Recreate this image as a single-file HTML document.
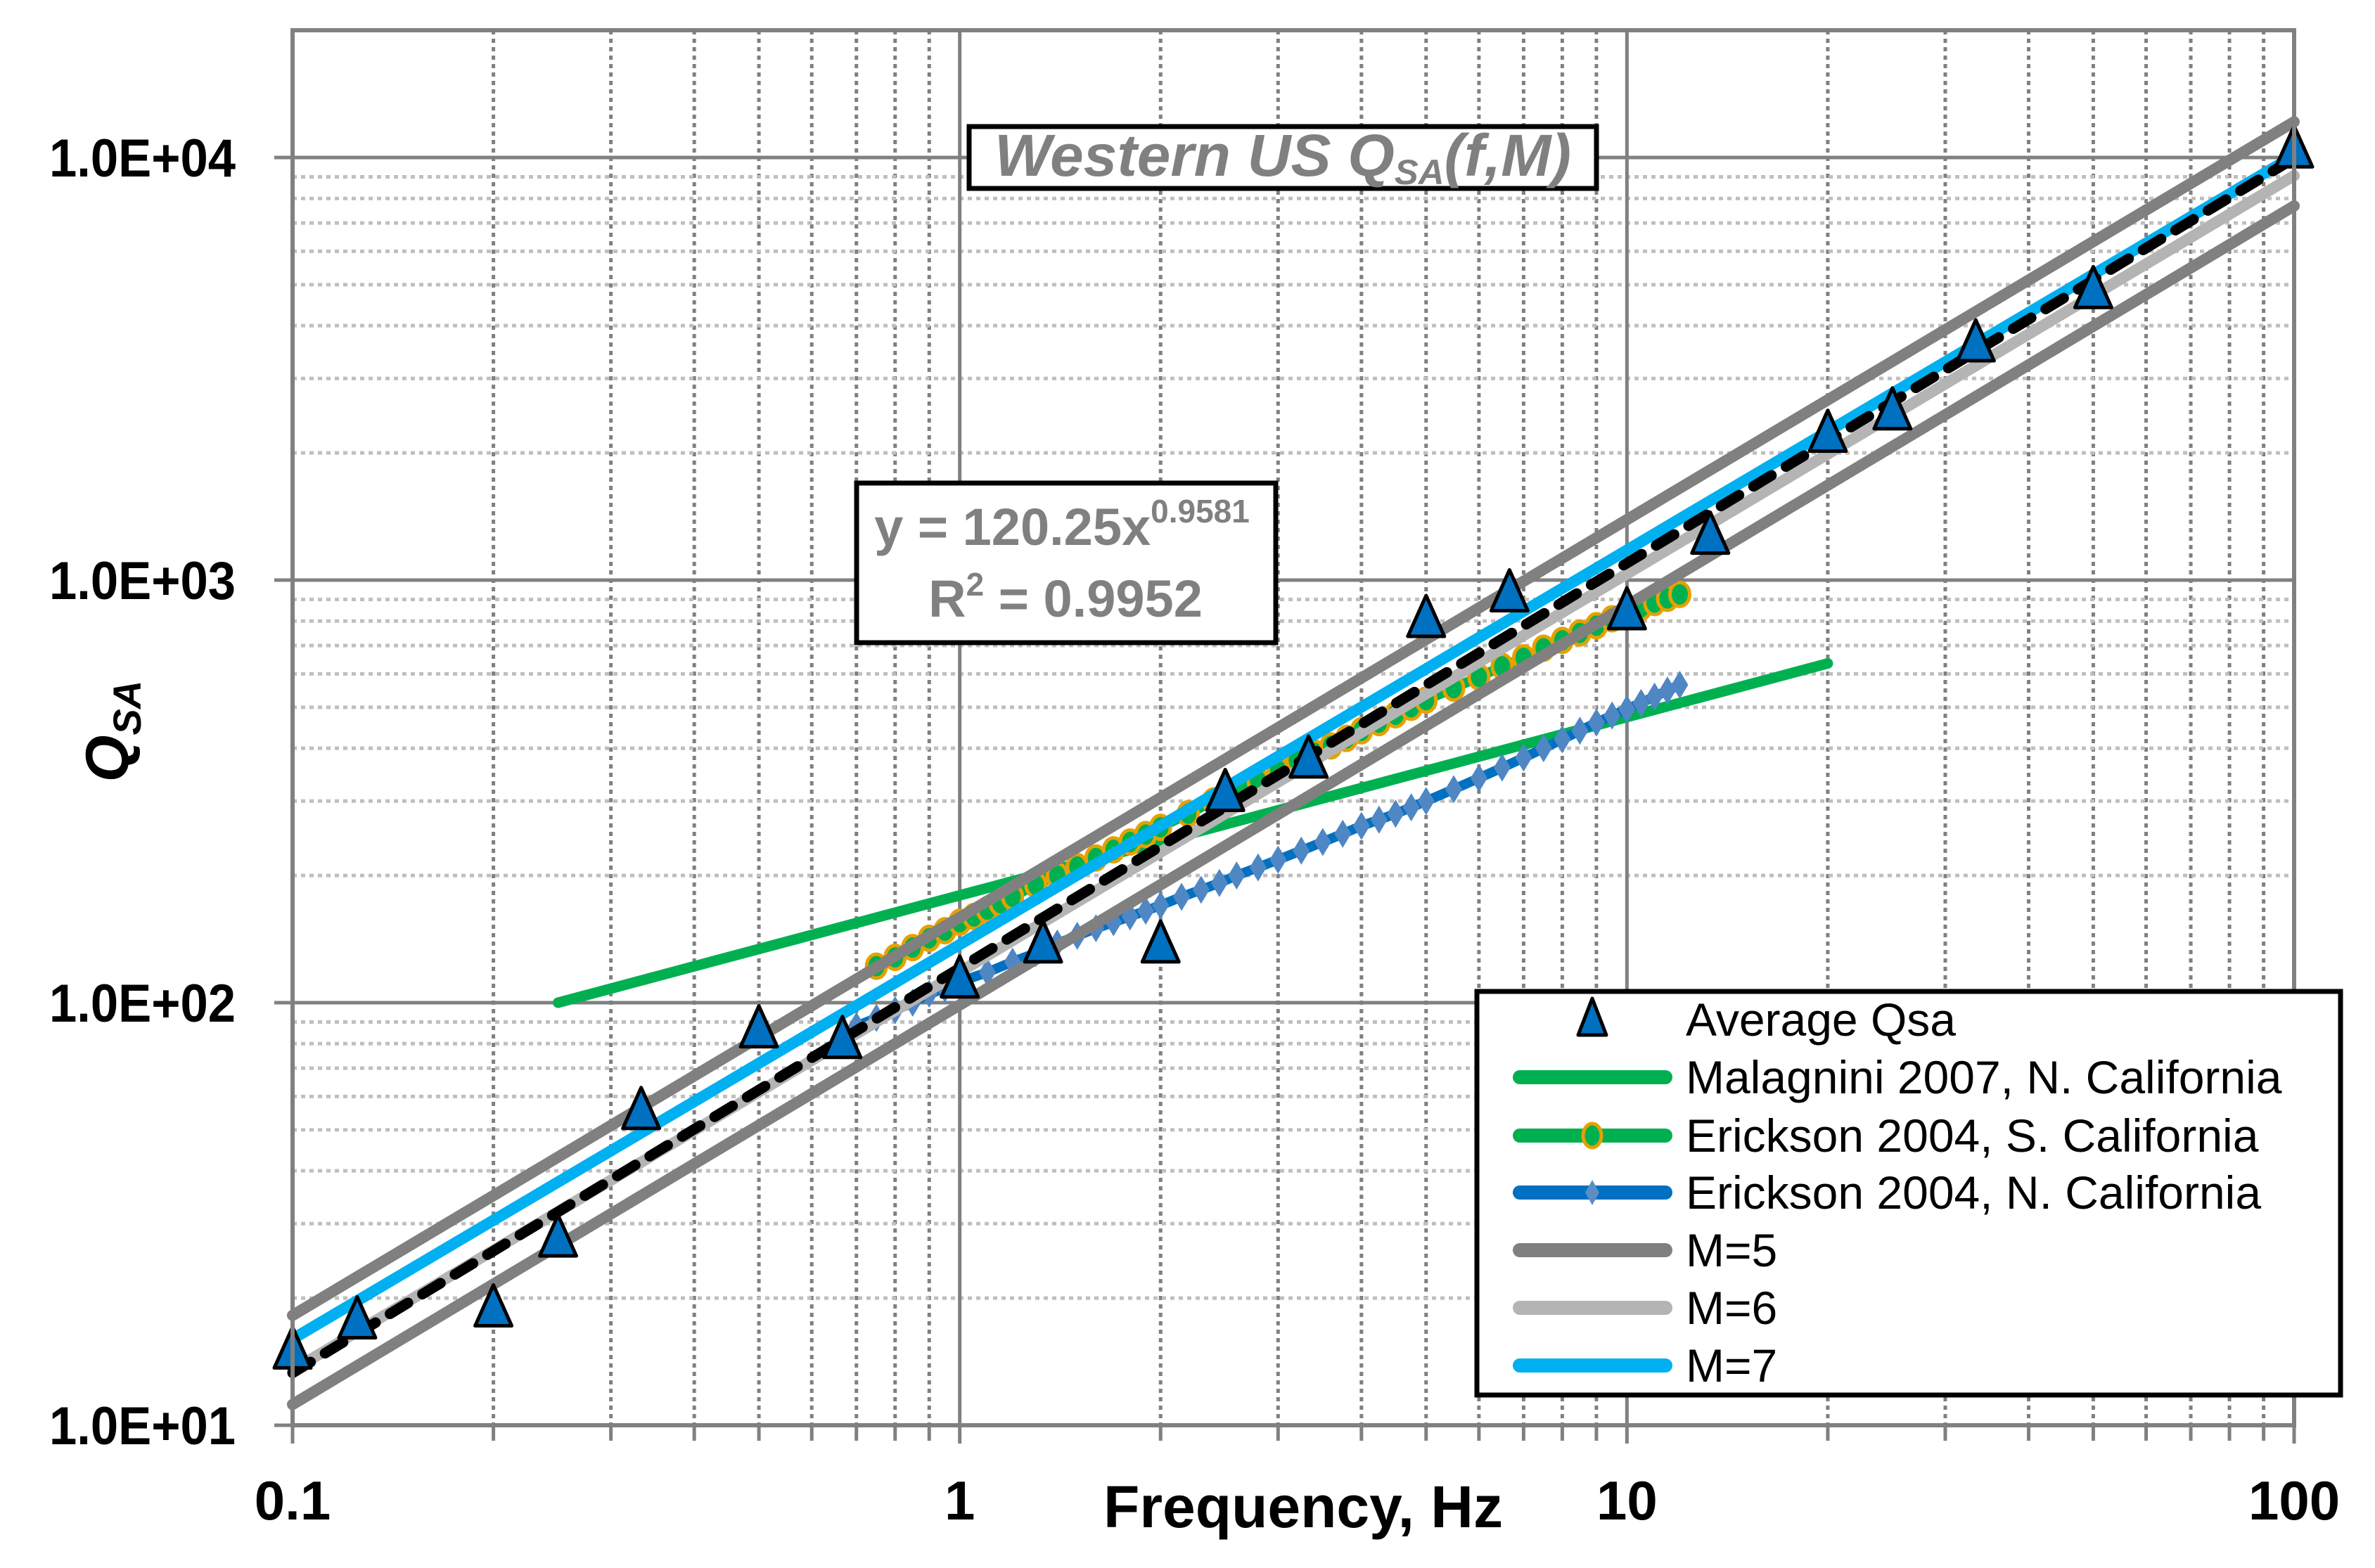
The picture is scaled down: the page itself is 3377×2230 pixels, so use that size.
<!DOCTYPE html>
<html><head><meta charset="utf-8"><style>
html,body{margin:0;padding:0;background:#fff;}
svg{display:block;}
text{font-family:"Liberation Sans",sans-serif;}
</style></head><body>
<svg id="chart" xmlns="http://www.w3.org/2000/svg" width="3377" height="2230" viewBox="0 0 3377 2230">
<rect x="0" y="0" width="3377" height="2230" fill="#fff"/>
<g id="grid"></g>
<g id="series"></g>
<rect x="416" y="43" width="2846" height="1984" fill="none" stroke="#808080" stroke-width="6"/>
<g id="ticks"></g>

<g>
<rect x="1378" y="180" width="892" height="88" fill="#fff" stroke="#000" stroke-width="7"/>
<text x="1824" y="250" text-anchor="middle" font-size="84" font-weight="bold" font-style="italic" fill="#808080" textLength="820" lengthAdjust="spacingAndGlyphs">Western US Q<tspan font-size="50" dy="12">SA</tspan><tspan dy="-12">(f,M)</tspan></text>
</g>
<g>
<rect x="1218" y="687" width="596" height="227" fill="#fff" stroke="#000" stroke-width="7"/>
<text x="1510" y="775" text-anchor="middle" font-size="74" font-weight="bold" fill="#808080">y = 120.25x<tspan font-size="46" dy="-32">0.9581</tspan></text>
<text x="1515" y="877" text-anchor="middle" font-size="74" font-weight="bold" fill="#808080">R<tspan font-size="46" dy="-30">2</tspan><tspan dy="30"> = 0.9952</tspan></text>
</g>

<text transform="translate(182,1040) rotate(-90)" text-anchor="middle" font-size="86" font-weight="bold" font-style="italic" fill="#000">Q<tspan font-size="56" dy="18">SA</tspan></text>
<text x="1853" y="2172" text-anchor="middle" font-size="84" font-weight="bold" fill="#000">Frequency, Hz</text>

<g id="legend">
<rect x="2100" y="1410" width="1228" height="574" fill="#fff" stroke="#000" stroke-width="7"/>
</g>
</svg>
<script>
const NS="http://www.w3.org/2000/svg";
// axis domain
const xTicks=[0.1,1,10,100];
const xTickLabels=["0.1","1","10","100"];
const yTicks=[10,100,1000,10000];
const yTickLabels=["1.0E+01","1.0E+02","1.0E+03","1.0E+04"];
// Average Qsa
const avgF=[0.1,0.125,0.2,0.25,0.333,0.5,0.667,1.0,1.333,2.0,2.5,3.333,5.0,6.667,10,13.33,20,25,33.33,50,100];
const avgQ=[15.1,17.8,19.0,27.8,55.7,86.9,82,114,138,138,315,378,813,935,848,1280,2230,2520,3650,4880,10500];
// Malagnini 2007
const malF=[0.25,20];
const malQ=[100,635];
// Erickson 2004 S. California
const esF=[0.75,0.8,0.85,0.9,0.95,1.0,1.05,1.1,1.15,1.2,1.3,1.4,1.5,1.6,1.7,1.8,1.9,2.0,2.2,2.4,2.5,2.8,3.0,3.2,3.4,3.6,3.8,4.0,4.25,4.5,4.75,5.0,5.5,6.0,6.5,7.0,7.5,8.0,8.5,9.0,9.5,10,10.5,11,11.5,12];
const esQ=[122,128,135,142,148,155,160,166,172,178,190,200,210,220,230,240,250,260,280,300,310,335,355,375,390,405,422,440,460,480,500,520,555,590,625,655,690,720,750,780,810,840,862,885,905,925];
// Erickson 2004 N. California
const enF=[0.7,0.75,0.8,0.85,0.9,0.95,1.0,1.1,1.2,1.3,1.4,1.5,1.6,1.7,1.8,1.9,2.0,2.15,2.3,2.45,2.6,2.8,3.0,3.25,3.5,3.75,4.0,4.25,4.5,4.75,5,5.5,6,6.5,7,7.5,8,8.5,9,9.5,10,10.5,11,11.5,12];
const enQ=[88,92,96,100,105,108,112,118,125,131,138,144,150,155,160,165,170,178,185,192,200,209,218,229,240,251,262,271,280,290,300,320,340,360,380,400,420,440,460,478,495,512,530,548,565];
// Magnitude curves
const m5F=[0.1,100];
const m5UpperQ=[18.2,12150];
const m5LowerQ=[11.2,7680];
const m6F=[0.1,100];
const m6Q=[13.5,9060];
const m7F=[0.1,100];
const m7Q=[16.0,10100];
// power-law trendline
const trendF=[0.1,100];
const trendQ=[13.3,9960];

const X0=416,XD=948.67,Y0=2027,YD=601;
function sx(f){return X0+(Math.log10(f)+1)*XD;}
function sy(q){return Y0-(Math.log10(q)-1)*YD;}
function mk(tag,attrs,parent){const e=document.createElementNS(NS,tag);for(const k in attrs)e.setAttribute(k,attrs[k]);parent.appendChild(e);return e;}

const grid=document.getElementById('grid');
const ticks=document.getElementById('ticks');
const ser=document.getElementById('series');
const yTop=43,xRight=3262;
for(let d=0;d<3;d++){for(let m=2;m<=9;m++){const f=xTicks[d]*m;const x=sx(f);
 const l=mk('line',{x1:x,y1:yTop,x2:x,y2:Y0,stroke:'#808080','stroke-width':5,'stroke-dasharray':'6 6'},grid);
 
 
 const t=mk('line',{x1:x,y1:Y0,x2:x,y2:Y0+22,stroke:'#808080','stroke-width':5},ticks);
 
 
}}
for(let d=0;d<4;d++){for(let m=2;m<=9;m++){const q=yTicks[d]*m;const y=sy(q);if(y<yTop)continue;
 const l=mk('line',{x1:X0,y1:y,x2:xRight,y2:y,stroke:'#bfbfbf','stroke-width':5,'stroke-dasharray':'6 6'},grid);
 
 
}}
xTicks.forEach((f,i)=>{const x=sx(f);
 const l=mk('line',{x1:x,y1:yTop,x2:x,y2:Y0+26,stroke:'#808080','stroke-width':5},grid);
 
 
 const t=mk('text',{x:x,y:2161,'text-anchor':'middle','font-size':78,'font-weight':'bold',fill:'#000'},ticks);
 t.textContent=xTickLabels[i];
 
 
});
yTicks.forEach((q,i)=>{const y=sy(q);
 const l=mk('line',{x1:X0-26,y1:y,x2:xRight,y2:y,stroke:'#808080','stroke-width':5},grid);
 
 
 const t=mk('text',{x:335,y:y+27,'text-anchor':'end','font-size':76,'font-weight':'bold',fill:'#000',textLength:265,lengthAdjust:'spacingAndGlyphs'},ticks);
 t.textContent=yTickLabels[i];
 
 
});

function pts(F,Q){return F.map((f,i)=>sx(f).toFixed(1)+','+sy(Q[i]).toFixed(1)).join(' ');}
function line(F,Q,color,w,name,extra){const a={points:pts(F,Q),fill:'none',stroke:color,'stroke-width':w,'stroke-linejoin':'round','stroke-linecap':'round'};Object.assign(a,extra||{});const e=mk('polyline',a,ser);
 
 return e;}

line(malF,malQ,'#00b050',15,'malagnini-2007-line');
line(esF,esQ,'#00b050',14,'erickson-s-california-line');
esF.forEach((f,i)=>{const c=mk('ellipse',{cx:sx(f),cy:sy(esQ[i]),rx:14,ry:17,fill:'#00b050',stroke:'#e6a100','stroke-width':5},ser);
 
 });
line(enF,enQ,'#0070c0',14,'erickson-n-california-line');
enF.forEach((f,i)=>{const x=sx(f),y=sy(enQ[i]);const d=mk('polygon',{points:`${x},${y-20} ${x+12},${y} ${x},${y+20} ${x-12},${y}`,fill:'#4f87c4'},ser);
 
 });
line(m5F,m5UpperQ,'#808080',16,'m5-upper-line');
line(m5F,m5LowerQ,'#808080',16,'m5-lower-line');
line(m6F,m6Q,'#b4b4b4',16,'m6-line');
line(m7F,m7Q,'#00b0f0',16,'m7-line');
line(trendF,trendQ,'#000',15,'power-trendline',{'stroke-dasharray':'30 24'});
avgF.forEach((f,i)=>{const x=sx(f),y=sy(avgQ[i]);const t=mk('polygon',{points:`${x},${y-32} ${x+26},${y+26} ${x-26},${y+26}`,fill:'#0070c0',stroke:'#000','stroke-width':5,'stroke-linejoin':'round'},ser);
 
 });

// legend
const lg=document.getElementById('legend');
const legNames=["Average Qsa","Malagnini 2007, N. California","Erickson 2004, S. California","Erickson 2004, N. California","M=5","M=6","M=7"];
const legColors=[null,'#00b050','#00b050','#0070c0','#808080','#b4b4b4','#00b0f0'];
const legY=[1450,1532,1615,1696,1778,1860,1942];
legNames.forEach((n,i)=>{const y=legY[i];
 if(i===0){const t=mk('polygon',{points:`2264,${y-30} 2284,${y+22} 2244,${y+22}`,fill:'#0070c0',stroke:'#000','stroke-width':5,'stroke-linejoin':'round'},lg);
  
  }
 else{const l=mk('line',{x1:2161,y1:y,x2:2368,y2:y,stroke:legColors[i],'stroke-width':20,'stroke-linecap':'round'},lg);
  
  
  if(i===2){const c=mk('ellipse',{cx:2264,cy:y,rx:13,ry:17,fill:'#00b050',stroke:'#e6a100','stroke-width':5},lg);
   
   }
  if(i===3){const d=mk('polygon',{points:`2264,${y-18} 2274,${y} 2264,${y+18} 2254,${y}`,fill:'#5b8ec7'},lg);
   
   }
 }
 const tx=mk('text',{x:2397,y:y+23,'font-size':66,fill:'#000'},lg);
 tx.textContent=n;
 
 
});
</script>
</body></html>
